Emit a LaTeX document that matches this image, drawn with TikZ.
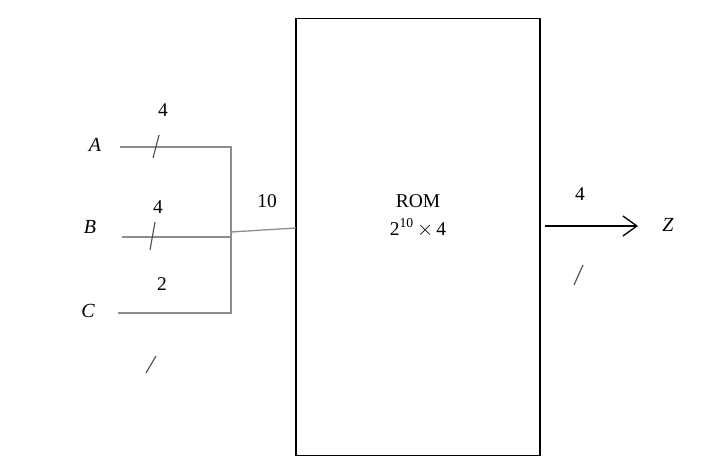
\documentclass[tikz,border=0pt]{standalone}
\usepackage{fontspec}
\setmainfont{Liberation Serif}
\usetikzlibrary{arrows.meta}
\begin{document}
\begin{tikzpicture}[x=1pt,y=-1pt,
  wire/.style={draw=black!45,line width=1.3pt},
  slash/.style={draw=black!70,line width=1.1pt},
  lbl/.style={font=\fontsize{19.5}{21}\selectfont,inner sep=0pt},
  var/.style={font=\fontsize{20}{21}\selectfont\itshape,inner sep=0pt}]
\useasboundingbox (0,0) rectangle (713,473);
\fill[white] (0,0) rectangle (713,473);
% ROM box
\node[draw,line width=1.3pt,minimum width=244pt,minimum height=437pt,inner sep=0pt] (rom) at (418,237) {};
\node[lbl] (romtxt) at (418,201) {ROM};
\node[lbl] (romsize) at (418,228) {$\mathrm{2}^{\mathrm{10}}$\,$\times$\,4};
% input labels
\node[var] (A) at (95,145) {A};
\node[var] (B) at (90,227) {B};
\node[var] (C) at (88,311) {C};
\coordinate (a0) at (120,147);
\coordinate (b0) at (122,237);
\coordinate (c0) at (118,313);
\coordinate (a1) at (231,147);
\coordinate (b1) at (231,237);
\coordinate (c1) at (231,313);
\coordinate (j) at (231,232);
\coordinate (r0) at (296,228);
\draw[wire] (a0) -- (a1) -- (c1) -- (c0);
\draw[wire] (b0) -- (b1);
\draw[wire] (j) -- (r0);
% slashes
\coordinate (sa1) at (153,158); \coordinate (sa2) at (159,135);
\coordinate (sb1) at (150,250); \coordinate (sb2) at (155,222);
\coordinate (sc1) at (146,373); \coordinate (sc2) at (156,356);
\coordinate (sz1) at (574,285); \coordinate (sz2) at (583,265);
\draw[slash] (sa1) -- (sa2);
\draw[slash] (sb1) -- (sb2);
\draw[slash] (sc1) -- (sc2);
\draw[slash] (sz1) -- (sz2);
% width labels
\node[lbl] (na) at (163,110) {4};
\node[lbl] (nb) at (158,207) {4};
\node[lbl] (nc) at (162,284) {2};
\node[lbl] (n10) at (267,201) {10};
\node[lbl] (nz) at (580,194) {4};
% output
\coordinate (z0) at (545,226);
\coordinate (z1) at (638,226);
\draw[line width=1.3pt,-{Straight Barb[length=14pt,width=20pt,line width=1.3pt]}] (z0) -- (z1);
\node[var] (Z) at (668,225) {Z};
\end{tikzpicture}
\end{document}
